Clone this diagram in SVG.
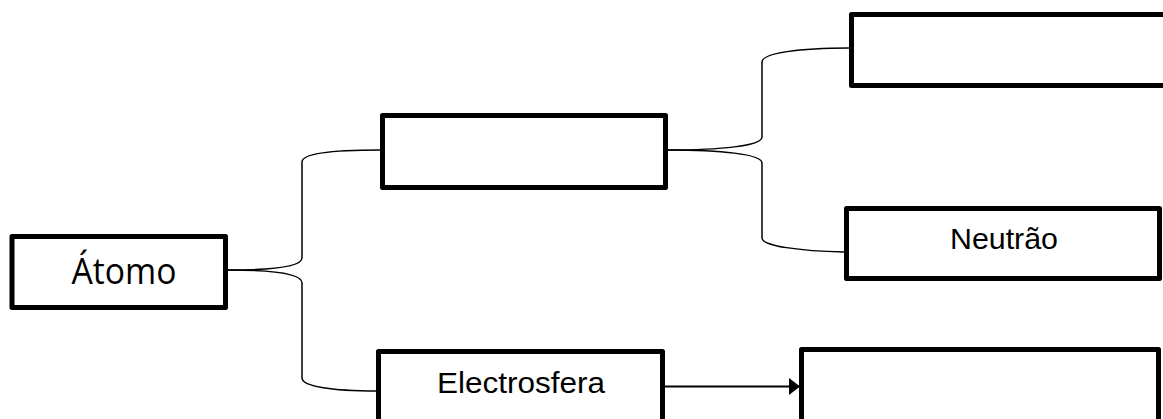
<svg xmlns="http://www.w3.org/2000/svg" width="1163" height="419" viewBox="0 0 1163 419">
  <defs>
    <style>
      .box { fill: #ffffff; stroke: #000000; stroke-width: 5; stroke-linejoin: round; }
      .link { fill: none; stroke: #000000; stroke-width: 1.5; }
      .arrow { fill: none; stroke: #000000; stroke-width: 2; }
      .label { font-family: "Liberation Sans", Arial, sans-serif; font-size: 30px; fill: #000000; text-anchor: middle; }
      .title { font-family: "Open Sans", "Noto Sans", sans-serif; font-size: 36px; fill: #000000; text-anchor: middle; }
    </style>
    <marker id="head" viewBox="0 0 11 17" refX="11" refY="8.5" markerWidth="11" markerHeight="17" markerUnits="userSpaceOnUse" orient="auto">
      <path d="M0,0 L11,8.5 L0,17 Z" fill="#000000"/>
    </marker>
  </defs>
  <rect width="1163" height="419" fill="#ffffff"/>

  <!-- connectors -->
  <g id="connectors">
    <path class="link" d="M228,270 C275,270 302,266 302,258 V162 C302,154 330,150 380,150"/>
    <path class="link" d="M228,270 C275,270 302,274 302,283 V378 C302,386 330,391 377,391"/>
    <path class="link" d="M668,150 C720,150 762,146 762,137 V62 C762,53 800,48 849,48"/>
    <path class="link" d="M668,150 C720,150 762,154 762,163 V238 C762,246 800,251 844,252"/>
    <path class="arrow" d="M665,386.5 L800,386.5" marker-end="url(#head)"/>
  </g>

  <!-- nodes -->
  <g id="atomo">
    <rect class="box" x="12" y="236.5" width="213.5" height="71"/>
    <text class="title" x="124" y="284" textLength="105" lengthAdjust="spacingAndGlyphs">Átomo</text>
  </g>
  <g id="nucleo">
    <rect class="box" x="382.5" y="115.5" width="283" height="72"/>
  </g>
  <g id="protao">
    <rect class="box" x="851.5" y="14.5" width="330" height="71"/>
  </g>
  <g id="neutrao">
    <rect class="box" x="846.5" y="208.5" width="313" height="70"/>
    <text class="label" x="1004" y="249" textLength="108" lengthAdjust="spacingAndGlyphs">Neutrão</text>
  </g>
  <g id="electrosfera">
    <rect class="box" x="378.5" y="351.5" width="284" height="90"/>
    <text class="label" x="521" y="393.3" textLength="168" lengthAdjust="spacingAndGlyphs">Electrosfera</text>
  </g>
  <g id="electrao">
    <rect class="box" x="801.5" y="349.5" width="357" height="90"/>
  </g>
</svg>
